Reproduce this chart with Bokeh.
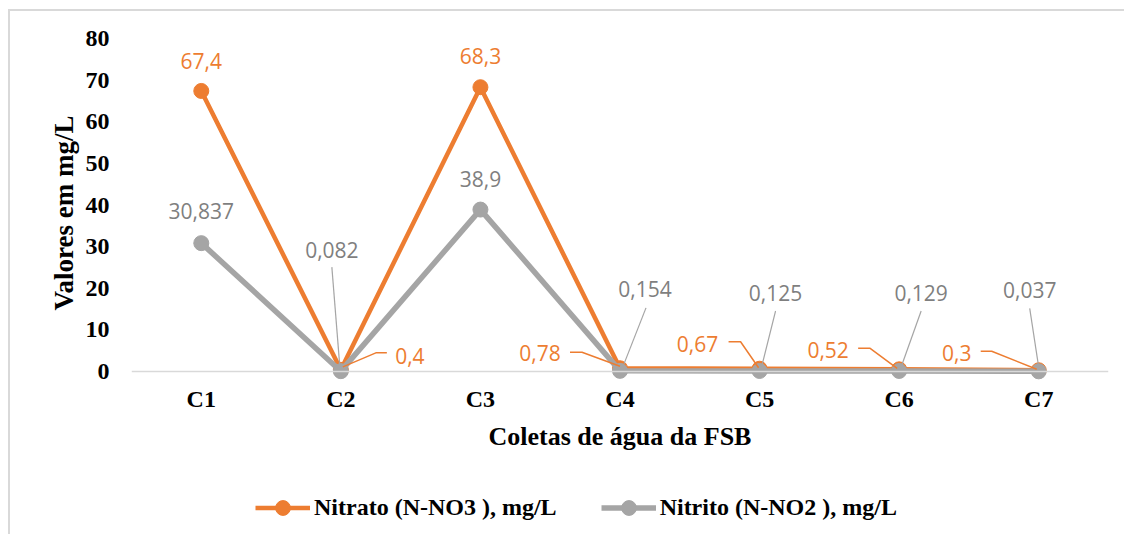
from bokeh.plotting import figure
from bokeh.models import Range1d, FixedTicker, Legend, LegendItem, ColumnDataSource, Title
from bokeh.core.properties import value
from bokeh.embed import file_html
from bokeh.resources import INLINE

# ---- data ----
categories = ["C1", "C2", "C3", "C4", "C5", "C6", "C7"]
nitrato = [67.4, 0.4, 68.3, 0.78, 0.67, 0.52, 0.3]
nitrito = [30.837, 0.082, 38.9, 0.154, 0.125, 0.129, 0.037]
nitrato_labels = ["67,4", "0,4", "68,3", "0,78", "0,67", "0,52", "0,3"]
nitrito_labels = ["30,837", "0,082", "38,9", "0,154", "0,125", "0,129", "0,037"]
y_ticks = [0, 10, 20, 30, 40, 50, 60, 70, 80]

# ---- styling / layout ----
ORANGE = "#ED7D31"
GRAY = "#A5A5A5"
GRAY_TXT = "#7F7F7F"
FW, FH = 1124, 534
ML, MR, MT, MB = 131, 16, 38, 0
AXIS_PX = 371 - MT          # pixel height of the 0..80 value band
frame_w = FW - ML - MR
frame_h = FH - MT - MB
x0, x1 = 0.5, len(categories) + 0.5
y1 = 80
pxx = frame_w / (x1 - x0)
pxy = AXIS_PX / y1
y0 = -(frame_h - AXIS_PX) / pxy   # room below zero for axis texts and legend

# label offsets (screen px, y down) and leader polylines (offsets from point, px)
o_lab = [(0, -30), (69, -14), (0, -31), (-80, -15), (-62, -25), (-71, -19), (-82, -17)]
o_lead = [None, [(46, -17), (35, -17), (2, -3)], None,
          [(-50, -16), (-38, -16), (0, -2)],
          [(-31, -27), (-19, -27), (-1, -1)],
          [(-41, -21), (-29, -21), (-2, -1)],
          [(-58, -19), (-47, -19), (-2, -1)]]
g_lab = [(0, -32), (-9, -121), (0, -31), (25, -82), (16, -78), (22, -78), (-9, -81)]
g_lead = [None, [(-9, -104), (-1, -4)], None,
          [(26, -63), (4, -7)], [(16, -60), (2, -4)],
          [(22, -60), (2, -4)], [(-9, -63), (0, -4)]]

xs = list(range(1, len(categories) + 1))

p = figure(width=FW, height=FH, x_range=Range1d(x0, x1), y_range=Range1d(y0, y1),
           output_backend="svg", toolbar_location=None,
           min_border_left=ML, min_border_right=MR, min_border_top=MT, min_border_bottom=MB)
# outer light-gray chart border (left + top), drawn as host background
p.styles = {"background": "linear-gradient(#D9D9D9,#D9D9D9) 8px 9px / 2px 100% no-repeat, "
                          "linear-gradient(#D9D9D9,#D9D9D9) 8px 9px / 100% 2px no-repeat, white"}
p.border_fill_alpha = 0
p.outline_line_color = None
p.grid.visible = False
p.background_fill_color = "white"

# lines + markers
l1 = p.line(xs, nitrato, line_color=ORANGE, line_width=4.5)
s1 = p.scatter(xs, nitrato, size=15, fill_color=ORANGE, line_color=ORANGE)
l2 = p.line(xs, nitrito, line_color=GRAY, line_width=5.5)
s2 = p.scatter(xs, nitrito, size=15, fill_color=GRAY, line_color=GRAY)


def leaders(vals, leads):
    lx, ly = [], []
    for i, (v, ld) in enumerate(zip(vals, leads)):
        if ld is None:
            continue
        lx.append([xs[i] + dx / pxx for dx, dy in ld])
        ly.append([v - dy / pxy for dx, dy in ld])
    return lx, ly


lx, ly = leaders(nitrato, o_lead)
p.multi_line(lx, ly, line_color=ORANGE, line_width=1.5)
lx, ly = leaders(nitrito, g_lead)
p.multi_line(lx, ly, line_color=GRAY, line_width=1.2)

src_o = ColumnDataSource(dict(x=xs, y=nitrato, t=nitrato_labels,
                              dx=[a for a, b in o_lab], dy=[b for a, b in o_lab]))
src_g = ColumnDataSource(dict(x=xs, y=nitrito, t=nitrito_labels,
                              dx=[a for a, b in g_lab], dy=[b for a, b in g_lab]))
for src, col in ((src_o, ORANGE), (src_g, GRAY_TXT)):
    p.text(x="x", y="y", text="t", x_offset="dx", y_offset="dy", source=src,
           text_font=value("Open Sans"), text_font_size="21px", text_color=col,
           text_align="center", text_baseline="middle")

# axes
p.xaxis.fixed_location = 0
p.xaxis.ticker = FixedTicker(ticks=xs)
p.xaxis.major_label_overrides = {i: c for i, c in zip(xs, categories)}
p.xaxis.axis_line_color = "#D9D9D9"
p.xaxis.axis_line_width = 1.5
p.xaxis.major_tick_line_color = None
p.xaxis.minor_tick_line_color = None
p.xaxis.major_label_standoff = 8
p.xaxis.major_label_text_font = "Liberation Serif"
p.xaxis.major_label_text_font_style = "bold"
p.xaxis.major_label_text_font_size = "24px"
p.xaxis.major_label_text_color = "black"
p.xaxis.axis_label = "Coletas de água da FSB"
p.xaxis.axis_label_text_font = "Liberation Serif"
p.xaxis.axis_label_text_font_style = "bold"
p.xaxis.axis_label_text_font_size = "26px"
p.xaxis.axis_label_text_color = "black"
p.xaxis.axis_label_standoff = 7

p.yaxis.bounds = (0, 80)
p.yaxis.ticker = FixedTicker(ticks=y_ticks)
p.yaxis.axis_line_color = None
p.yaxis.major_tick_line_color = None
p.yaxis.minor_tick_line_color = None
p.yaxis.major_label_standoff = 16
p.yaxis.major_label_text_font = "Liberation Serif"
p.yaxis.major_label_text_font_style = "bold"
p.yaxis.major_label_text_font_size = "24px"
p.yaxis.major_label_text_color = "black"

# y-axis title, placed along the 0..80 band (not the whole frame)
ytitle = Title(text="Valores em mg/L", align="left", offset=224, standoff=8,
               text_font="Liberation Serif", text_font_style="bold",
               text_font_size="27px", text_color="black")
p.add_layout(ytitle, "left")

legend = Legend(items=[LegendItem(label="Nitrato (N-NO3 ), mg/L", renderers=[l1, s1]),
                       LegendItem(label="Nitrito (N-NO2 ), mg/L", renderers=[l2, s2])],
                location=(124, 8), orientation="horizontal",
                glyph_width=55, glyph_height=37, label_height=37, spacing=44,
                padding=0, margin=0, border_line_color=None, background_fill_alpha=0,
                label_standoff=4, label_text_font="Liberation Serif",
                label_text_font_style="bold", label_text_font_size="24px",
                label_text_color="black")
p.add_layout(legend)

open("out.html", "w").write(file_html(p, INLINE))
